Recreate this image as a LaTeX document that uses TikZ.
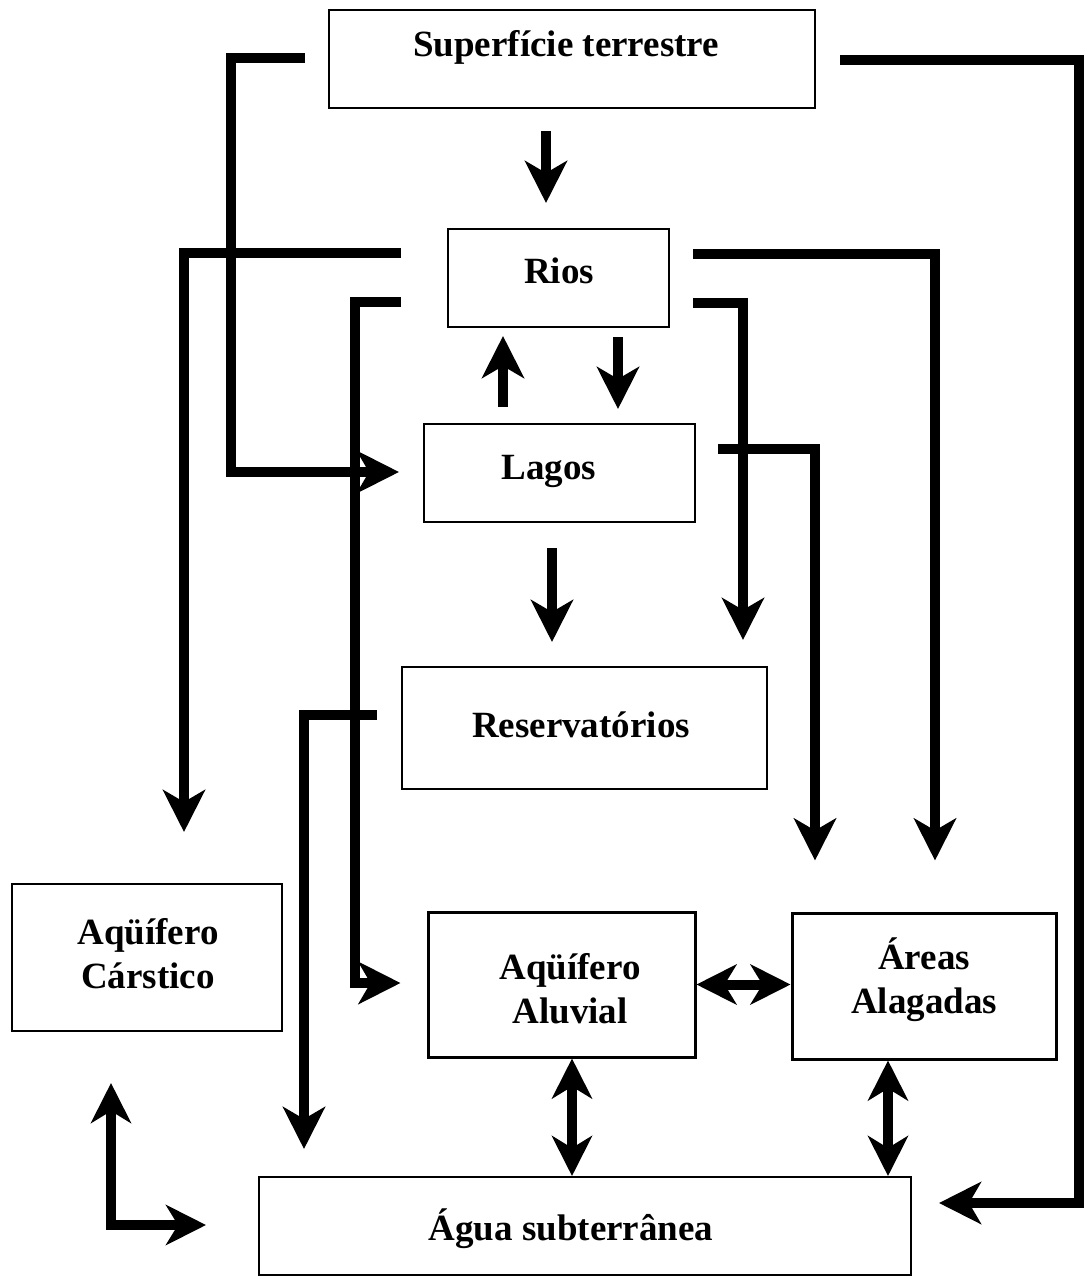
\documentclass[tikz,border=0pt]{standalone}
\usepackage{fontspec}
\setmainfont{Liberation Serif}
\usetikzlibrary{arrows.meta,calc}
\begin{document}
\begin{tikzpicture}[x=1pt,y=-1pt,
  box/.style={draw, line width=2pt, inner sep=0pt},
  boxb/.style={draw, line width=3pt, inner sep=0pt},
  lbl/.style={font=\bfseries\fontsize{37}{44}\selectfont, inner sep=0pt, align=center},
  conn/.style={line width=10pt, line join=miter},
  arr/.style={conn, -{Stealth[length=42pt,width=42pt,inset=12pt]}},
  darr/.style={conn, {Stealth[length=40pt,width=40pt,inset=12pt]}-{Stealth[length=40pt,width=40pt,inset=12pt]}}]
\useasboundingbox (0,0) rectangle (1088,1277);
\fill[white] (0,0) rectangle (1088,1277);
% boxes
\node[box, minimum width=486pt, minimum height=98pt] (sup) at (572,59) {};
\node[box, minimum width=221pt, minimum height=98pt] (rios) at (558.5,278) {};
\node[box, minimum width=271pt, minimum height=98pt] (lagos) at (559.5,473) {};
\node[box, minimum width=365pt, minimum height=122pt] (res) at (584.5,728) {};
\node[box, minimum width=270pt, minimum height=147pt] (cars) at (147,957.5) {};
\node[boxb, minimum width=267pt, minimum height=145pt] (alu) at (561.5,984.5) {};
\node[boxb, minimum width=264pt, minimum height=146pt] (areas) at (924,986) {};
\node[box, minimum width=652pt, minimum height=98pt] (agua) at (585,1226) {};
% labels (base = baseline of last line)
\node[lbl, anchor=base] (sup-t) at (566,56) {Superfície terrestre};
\node[lbl, anchor=base] (rios-t) at (559,283) {Rios};
\node[lbl, anchor=base] (lagos-t) at (549,479) {Lagos};
\node[lbl, anchor=base] (res-t) at (581,737) {Reservatórios};
\node[lbl, anchor=base] (cars-t) at (148,988) {Aqüífero\\Cárstico};
\node[lbl, anchor=base] (alu-t) at (570,1023) {Aqüífero\\Aluvial};
\node[lbl, anchor=base] (areas-t) at (924,1013) {Áreas\\Alagadas};
\node[lbl, anchor=base] (agua-t) at (571,1240) {Água subterrânea};
% connector points
\coordinate (s1) at (305,58);   \coordinate (k1a) at (231,58);  \coordinate (k1b) at (231,472);
\coordinate (s2) at (840,60);   \coordinate (k2a) at (1079,60); \coordinate (k2b) at (1079,1203);
\coordinate (s3) at (546,131);
\coordinate (s4) at (401,253);  \coordinate (k4) at (184,253);
\coordinate (s5) at (401,302);  \coordinate (k5a) at (355,302); \coordinate (k5b) at (355,983);
\coordinate (s6) at (693,254);  \coordinate (k6) at (935,254);
\coordinate (s7) at (693,303);  \coordinate (k7) at (743,303);
\coordinate (s8) at (503,407);
\coordinate (s9) at (618,337);
\coordinate (s10) at (718,449); \coordinate (k10) at (815,449);
\coordinate (s11) at (552,548);
\coordinate (s12) at (377,715); \coordinate (k12) at (304,715);
\coordinate (k16) at (111,1225);
% connectors
\draw[arr, shorten >=24pt] (s1) -- (k1a) -- (k1b) -- (k1b -| lagos.west);
\draw[arr, shorten >=27pt] (s2) -- (k2a) -- (k2b) -- (k2b -| agua.east);
\draw[arr, shorten >=25pt] (s3) -- (s3 |- rios.north);
\draw[arr, shorten >=51pt] (s4) -- (k4) -- (k4 |- cars.north);
\draw[arr, shorten >=26pt] (s5) -- (k5a) -- (k5b) -- (k5b -| alu.west);
\draw[arr, shorten >=51pt] (s6) -- (k6) -- (k6 |- areas.north);
\draw[arr, shorten >=26pt] (s7) -- (k7) -- (k7 |- res.north);
\draw[arr, shorten >=8pt]  (s8) -- (s8 |- rios.south);
\draw[arr, shorten >=14pt] (s9) -- (s9 |- lagos.north);
\draw[arr, shorten >=51pt] (s10) -- (k10) -- (k10 |- areas.north);
\draw[arr, shorten >=24pt] (s11) -- (s11 |- res.north);
\draw[arr, shorten >=27pt] (s12) -- (k12) -- (k12 |- agua.north);
\draw[darr] (alu.east) -- (alu.east -| areas.west);
\draw[darr] (alu.south -| 572,0) -- (agua.north -| 572,0);
\draw[darr] (areas.south -| 888,0) -- (agua.north -| 888,0);
\draw[darr, shorten <=51pt, shorten >=52pt] (k16 |- cars.south) -- (k16) -- (k16 -| agua.west);
\end{tikzpicture}
\end{document}
